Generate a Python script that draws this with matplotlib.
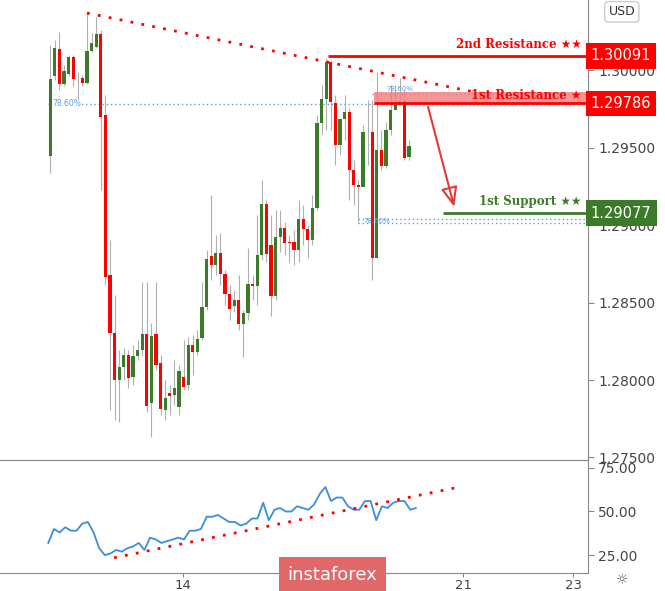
import matplotlib
matplotlib.use("Agg")
import matplotlib.pyplot as plt
import numpy as np

opens  = [1.29445,1.29961,1.30135,1.29910,1.29974,1.30084,1.29948,1.29948,1.29916,1.30123,1.30148,1.30232,
          1.29710,1.28678,1.28304,1.28000,1.28084,1.28162,1.28020,1.28155,1.28194,1.28297,1.27852,1.28297,
          1.28110,1.27807,1.27916,1.27903,1.27826,1.28020,1.27968,1.28226,1.28181,1.28271,1.28471,1.28800,
          1.28742,1.28820,1.28684,1.28555,1.28478,1.28516,1.28362,1.28432,1.28620,1.28607,1.28807,1.29136,
          1.28871,1.28542,1.28923,1.28981,1.28891,1.28891,1.28839,1.29039,1.28974,1.28904,1.29110,1.29658,
          1.29813,1.30052,1.29787,1.29516,1.29684,1.29729,1.29355,1.29258,1.29245,1.29600,1.29600,1.28787,
          1.29484,1.29381,1.29613,1.29742,1.29787,1.29800,1.29439]
closes = [1.29942,1.30142,1.29910,1.29994,1.30084,1.29942,1.29948,1.29916,1.30123,1.30174,1.30232,1.29697,
          1.28665,1.28304,1.28000,1.28084,1.28162,1.28013,1.28155,1.28194,1.28297,1.27832,1.28284,1.28097,
          1.27813,1.27884,1.27897,1.27948,1.28058,1.27955,1.28226,1.28181,1.28265,1.28471,1.28781,1.28742,
          1.28820,1.28684,1.28555,1.28458,1.28516,1.28362,1.28432,1.28620,1.28607,1.28807,1.29136,1.28813,
          1.28542,1.28923,1.28981,1.28884,1.28884,1.28839,1.29039,1.28974,1.28904,1.29110,1.29658,1.29813,
          1.30052,1.29794,1.29516,1.29684,1.29729,1.29355,1.29258,1.29245,1.29600,1.29600,1.28787,1.29484,
          1.29381,1.29613,1.29742,1.29787,1.29800,1.29432,1.29510]
highs  = [1.30161,1.30194,1.30245,1.30032,1.30097,1.30097,1.29987,1.29968,1.30368,1.30239,1.30342,1.30258,
          1.29839,1.28904,1.28549,1.28194,1.28207,1.28194,1.28226,1.28258,1.28633,1.28633,1.28368,1.28633,
          1.28162,1.28000,1.27968,1.28129,1.28097,1.28258,1.28278,1.28291,1.28323,1.28633,1.28839,1.29194,
          1.28936,1.28949,1.28710,1.28613,1.28581,1.28678,1.28452,1.28852,1.28678,1.29065,1.29290,1.29161,
          1.29065,1.29097,1.29097,1.29020,1.28936,1.28968,1.29161,1.29129,1.29000,1.29194,1.29710,1.29903,
          1.30077,1.30065,1.29839,1.29645,1.29839,1.29755,1.29419,1.29290,1.29645,1.29806,1.29806,1.29987,
          1.29613,1.29665,1.29903,1.29903,1.29948,1.29871,1.29548]
lows   = [1.29336,1.29935,1.29871,1.29897,1.29961,1.29897,1.29806,1.29897,1.29910,1.30116,1.30142,1.29226,
          1.28613,1.27807,1.27742,1.27729,1.28000,1.27948,1.27968,1.28129,1.28162,1.27794,1.27633,1.28065,
          1.27774,1.27742,1.27774,1.27839,1.27774,1.27936,1.27936,1.28033,1.28162,1.28258,1.28452,1.28645,
          1.28678,1.28613,1.28484,1.28387,1.28439,1.28323,1.28149,1.28387,1.28516,1.28484,1.28774,1.28761,
          1.28413,1.28516,1.28826,1.28807,1.28761,1.28742,1.28761,1.28871,1.28787,1.28871,1.29097,1.29581,
          1.29613,1.29613,1.29387,1.29452,1.29548,1.29161,1.29129,1.29020,1.29387,1.29387,1.28645,1.28787,
          1.29355,1.29368,1.29581,1.29774,1.29774,1.29419,1.29419]

rsi = [32,40,38,41,39,39,43,44,38,29,25,26,28,27,29,30,32,28,35,34,32,33,34,35,34,39,39,40,47,47,48,46,44,44,
       42,43,46,46,55,45,51,52,50,50,53,52,51,54,60,64,56,58,58,53,51,51,56,56,45,53,52,55,56,56,51,52]

price_ticks = [1.30000, 1.29500, 1.29000, 1.28500, 1.28000, 1.27500]
price_ticklabels = ["1.30000", "1.29500", "1.29000", "1.28500", "1.28000", "1.27500"]
rsi_ticks = [75, 50, 25]
date_labels = ["14", "21", "23"]
date_pos = [28.9, 89.8, 113.7]

res2, res1, sup1 = 1.30091, 1.29786, 1.29077
fib = 1.29781

GREEN = "#3b7a29"
RED = "#ff0000"
LBLFAM = ["DejaVu Serif", "DejaVu Sans"]

fig = plt.figure(figsize=(6.65, 5.91), dpi=100)
ax = fig.add_axes([0, 0.2217, 0.884, 0.7783])
ax2 = fig.add_axes([0, 0.0305, 0.884, 0.1912])
xlim = (-10.9, 116.9)

n = len(opens)
for i in range(n):
    o, c, h, l = opens[i], closes[i], highs[i], lows[i]
    col = GREEN if c >= o else RED
    ax.vlines(i, l, h, color="#b0b0b0", lw=0.8, zorder=2)
    ax.bar(i, max(abs(c - o), 0.00003), bottom=min(o, c), width=0.7, color=col, zorder=3, linewidth=0)

ax.set_xlim(*xlim)
ax.set_ylim(1.27484, 1.30452)
tx = np.array([8, 95])
ax.plot(tx, 1.30368 - (tx - 8) * 6.05e-5, ls=(0, (1, 3)), color=RED, lw=2, zorder=4)
ax.hlines(fib, -0.5, xlim[1], color="#5aa0e0", lw=1, ls=(0, (1, 2)))
ax.text(0.5, fib, "78.60%", color="#5aa0e0", fontsize=5.5, va="center", ha="left",
        bbox=dict(fc="white", ec="none", pad=0.3))
ax.hlines(1.29845, 70, xlim[1], color="#5aa0e0", lw=1, ls=(0, (1, 2)))
ax.text(73, 1.29860, "78.60%", color="#5aa0e0", fontsize=5, va="bottom")
ax.hlines([1.29040, 1.29010], 67, xlim[1], color="#5aa0e0", lw=1, ls=(0, (1, 2)))
ax.text(68, 1.29025, "78.60%", color="#5aa0e0", fontsize=5, va="center")

ax.hlines(res2, 60.5, xlim[1], color=RED, lw=2, zorder=5)
ax.axhspan(res1, 1.29858, xmin=(70.5 - xlim[0]) / (xlim[1] - xlim[0]), xmax=1, color="#f47c7c", alpha=0.8, zorder=4, lw=0)
ax.hlines(res1, 70.5, xlim[1], color=RED, lw=2, zorder=5)
ax.hlines(sup1, 85.5, xlim[1], color=GREEN, lw=2, zorder=5)
ax.text(115.5, res2 + 0.00035, "2nd Resistance ★★", color=RED, fontsize=8.5, fontweight="bold",
        family=LBLFAM, ha="right", va="bottom")
ax.text(115.5, res1 + 0.00010, "1st Resistance ★", color=RED, fontsize=8.5, fontweight="bold",
        family=LBLFAM, ha="right", va="bottom", zorder=6)
ax.text(115.5, sup1 + 0.00035, "1st Support ★★", color=GREEN, fontsize=8.5, fontweight="bold",
        family=LBLFAM, ha="right", va="bottom")
ax.annotate("", xy=(88, 1.29100), xytext=(82, 1.29780),
            arrowprops=dict(arrowstyle="-|>,head_width=0.5,head_length=1.2", color="#e53935", lw=1.5, fill=False))

for a in (ax, ax2):
    for s in ("left", "top"):
        a.spines[s].set_visible(False)
    a.spines["right"].set_color("#888888")
    a.spines["bottom"].set_color("#888888")
    a.yaxis.tick_right()
    a.tick_params(axis="y", colors="#888888", labelsize=10, length=4, direction="out", labelcolor="#444444")
ax.set_yticks(price_ticks)
ax.set_yticklabels(price_ticklabels)
ax.set_xticks([])

for val, col in ((res2, RED), (res1, RED), (sup1, GREEN)):
    ax.text(1.005, val, f"{val:.5f}", transform=ax.get_yaxis_transform(), color="white", fontsize=10.5,
            va="center", ha="left", bbox=dict(fc=col, ec="none", boxstyle="square,pad=0.35"), zorder=10, clip_on=False)
fig.text(0.935, 0.98, "USD", fontsize=9, color="#333333", ha="center", va="center",
         bbox=dict(fc="white", ec="#cccccc", boxstyle="round,pad=0.3"))

rx = np.linspace(-0.4, 79.5, len(rsi))
ax2.plot(rx, rsi, color="#3a8ee0", lw=1.3)
rt = np.array([13.9, 88])
ax2.plot(rt, 23.5 + (rt - 13.9) * (40 / 74.1), ls=(0, (1, 3)), color=RED, lw=2)
ax2.set_xlim(*xlim)
ax2.set_ylim(14.8, 79.5)
ax2.set_yticks(rsi_ticks)
ax2.set_yticklabels(["75.00", "50.00", "25.00"])
ax2.spines["top"].set_visible(True)
ax2.spines["top"].set_color("#888888")
ax2.set_xticks(date_pos)
ax2.set_xticklabels(date_labels)
ax2.tick_params(axis="x", colors="#888888", labelcolor="#444444", labelsize=9.5, length=3, pad=1)

fig.text(0.5, 0.027, "instaforex", color="white", fontsize=13, ha="center", va="center",
         bbox=dict(fc="#e06868", ec="none", boxstyle="square,pad=0.5"))
fig.text(0.935, 0.018, "☼", fontsize=10, color="#555555", ha="center", va="center")

fig.savefig("out.png", dpi=100)
